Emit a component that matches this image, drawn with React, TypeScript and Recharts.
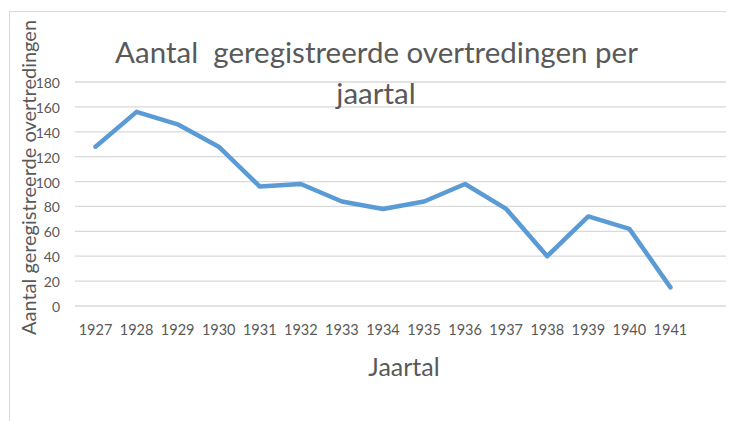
import React from 'react';
import { LineChart, Line, XAxis, YAxis, CartesianGrid } from 'recharts';

const years = ['1927', '1928', '1929', '1930', '1931', '1932', '1933', '1934', '1935', '1936', '1937', '1938', '1939', '1940', '1941', ''];
const counts: (number | null)[] = [128, 156, 146, 128, 96, 98, 84, 78, 84, 98, 78, 40, 72, 62, 15, null];
const yTicks = [0, 20, 40, 60, 80, 100, 120, 140, 160, 180];

const titleLines = ['Aantal  geregistreerde overtredingen per', 'jaartal'];
const yTitle = 'Aantal geregistreerde overtredingen';
const xTitle = 'Jaartal';

const data = years.map((y, i) => ({ year: y, value: counts[i] }));

const FONT = 'Lato, "Noto Sans", sans-serif';
const GREY = '#595959';

export default function App() {
  return (
    <div style={{ position: 'relative', width: 726, height: 413, overflow: 'hidden', background: '#fff' }}>
      <div
        style={{
          position: 'absolute',
          left: 1,
          top: 3,
          width: 740,
          height: 430,
          borderTop: '1px solid #d9d9d9',
          borderLeft: '1px solid #d9d9d9',
          boxSizing: 'border-box',
        }}
      />
      <div style={{ position: 'absolute', left: 0, top: 0 }}>
        <LineChart width={726} height={413} data={data} margin={{ top: 74, right: 2, left: 0, bottom: 0 }}>
          <CartesianGrid vertical={false} stroke="#d9d9d9" strokeWidth={1.3} />
          <XAxis
            dataKey="year"
            axisLine={false}
            tickLine={false}
            tickSize={0}
            tickMargin={19}
            height={115}
            interval={0}
            padding={{ left: 20.5, right: 20.5 }}
            tick={{ fill: GREY, fontSize: 14.5, fontFamily: FONT }}
          />
          <YAxis
            domain={[0, 180]}
            ticks={yTicks}
            axisLine={false}
            tickLine={false}
            tickSize={0}
            tickMargin={15}
            width={67}
            interval={0}
            tick={{ fill: GREY, fontSize: 14, fontFamily: FONT, dy: 1 }}
          />
          <Line
            type="linear"
            dataKey="value"
            stroke="#5b9bd5"
            strokeWidth={4.5}
            dot={false}
            activeDot={false}
            strokeLinejoin="round"
            strokeLinecap="round"
            isAnimationActive={false}
            connectNulls={false}
          />
        </LineChart>
      </div>
      <svg width={726} height={413} style={{ position: 'absolute', left: 0, top: 0, pointerEvents: 'none' }}>
        <text x={368.5} y={55} textAnchor="middle" fontFamily={FONT} fontSize={29.5} fill={GREY} style={{ whiteSpace: 'pre' }}>
          {titleLines[0]}
        </text>
        <text x={368} y={96} textAnchor="middle" fontFamily={FONT} fontSize={29.5} fill={GREY}>
          {titleLines[1]}
        </text>
        <text
          x={27.5}
          y={169.5}
          textAnchor="middle"
          fontFamily={FONT}
          fontSize={20}
          fill={GREY}
          transform="rotate(-90 27.5 169.5)"
        >
          {yTitle}
        </text>
        <text x={396} y={368} textAnchor="middle" fontFamily={FONT} fontSize={25} fill={GREY}>
          {xTitle}
        </text>
      </svg>
    </div>
  );
}
